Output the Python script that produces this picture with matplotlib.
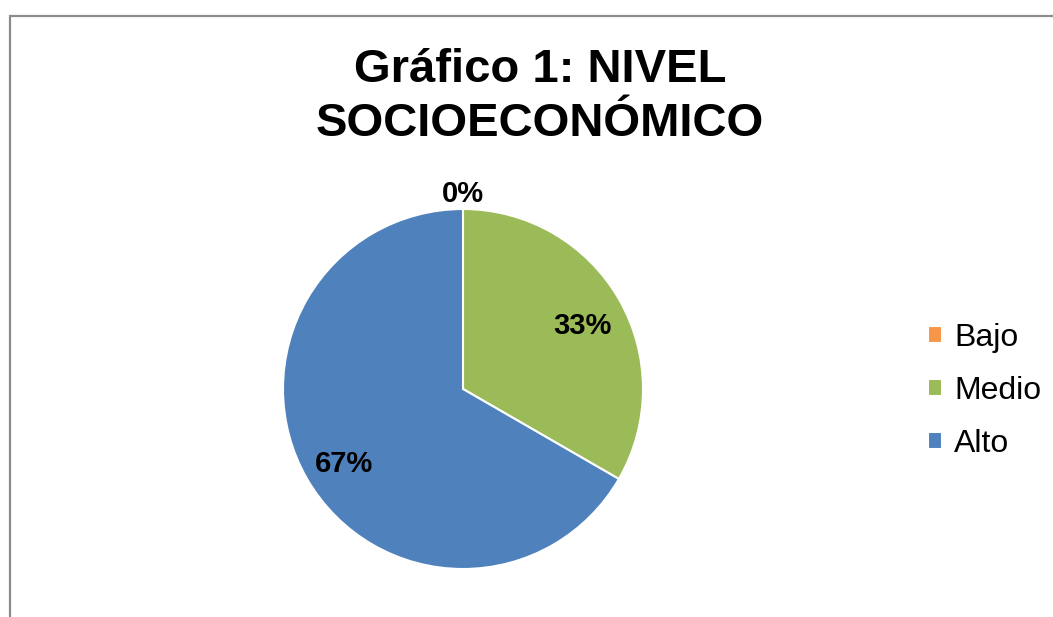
# Gráfico 1: nivel socioeconómico (pie chart)
import matplotlib.pyplot as plt
from matplotlib.patches import Rectangle
import numpy as np

plt.rcParams['font.family'] = ['Liberation Sans', 'DejaVu Sans']

# data
labels = ['Bajo', 'Medio', 'Alto']
values = [0, 1, 2]
colors = ['#F79646', '#9BBB59', '#4F81BD']

W, H = 1053, 617
fig = plt.figure(figsize=(W / 100, H / 100), dpi=100)

# chart frame (only left and top edges visible)
fig.add_artist(Rectangle((10 / W, -0.1), 1.2, (H - 16) / H + 0.1,
                         transform=fig.transFigure, fill=False,
                         edgecolor='#8c8c8c', linewidth=1.6))

# pie axes: center (463, 389) px, radius 180 px
r = 180
cx, cy = 463, H - 389
ax = fig.add_axes([(cx - r) / W, (cy - r) / H, 2 * r / W, 2 * r / H])
wedges, _ = ax.pie(values, colors=colors, startangle=90, counterclock=False,
                   radius=1, wedgeprops=dict(edgecolor='white', linewidth=1.5))
ax.set_xlim(-1, 1)
ax.set_ylim(-1, 1)
ax.set_aspect('equal')
ax.axis('off')

total = sum(values)
for w, v in zip(wedges, values):
    ang = np.deg2rad((w.theta1 + w.theta2) / 2)
    if v == 0:
        dist, dy = 1.085, 0
    else:
        dist, dy = 0.765, -0.035
    ax.text(dist * np.cos(ang), dist * np.sin(ang) + dy, f'{v / total:.0%}',
            ha='center', va='center', fontsize=21, fontweight='bold',
            clip_on=False)

fig.text(540 / W, 1 - 97 / H, 'Gráfico 1: NIVEL\nSOCIOECONÓMICO',
         ha='center', va='center', fontsize=34, fontweight='bold',
         linespacing=1.27)

fig.legend(wedges, labels, loc='center left', bbox_to_anchor=(899 / W, 1 - 391 / H),
           frameon=False, fontsize=23, handlelength=0.44, handleheight=0.44,
           handletextpad=0.38, labelspacing=0.72)

plt.savefig('out.png', dpi=100)
